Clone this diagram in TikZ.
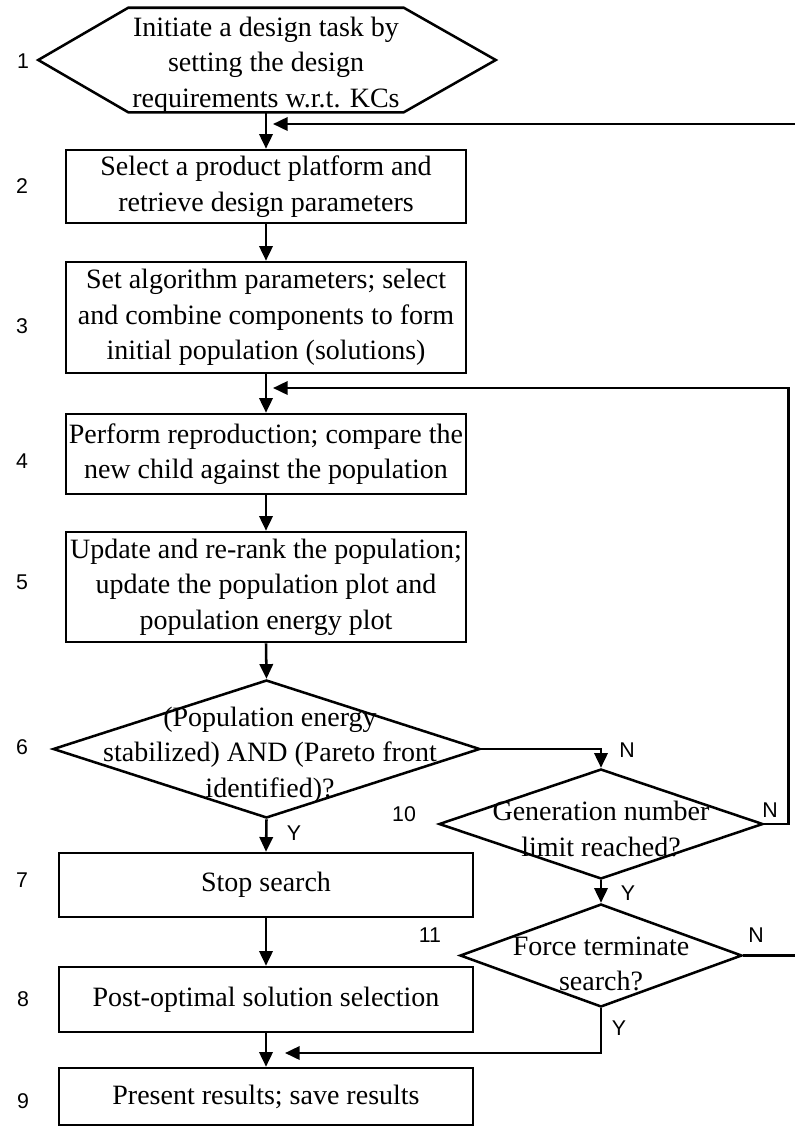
\documentclass[tikz,border=0pt]{standalone}
\usepackage{fontspec}
\setmainfont{Liberation Serif}
\newfontfamily\labelfont{Liberation Sans}
\usetikzlibrary{arrows.meta,shapes.geometric,calc}
\begin{document}
\begin{tikzpicture}[x=0.75pt,y=-0.75pt,
  line/.style={line width=1.9pt},
  arr/.style={line, -{Triangle[length=11pt,width=10pt]}},
  bodyfont/.style={font=\fontsize{21}{26.5}\selectfont},
  stepbox/.style={draw, line width=1.9pt, rectangle, minimum width=300pt,
    inner sep=0pt, align=center, bodyfont},
  widebox/.style={stepbox, minimum width=310.5pt},
  decision/.style={draw, line width=1.9pt, diamond, inner sep=0pt},
  txt/.style={align=center, inner sep=0pt, bodyfont},
  num/.style={font=\labelfont\fontsize{16}{18}\selectfont, inner sep=0pt}
]
\useasboundingbox (0,0) rectangle (795,1128);

% start: hexagon drawn around an invisible core rectangle
\node[minimum width=206.25pt, minimum height=78pt, inner sep=0pt] (n1) at (266,60) {};
\draw[line, line join=miter] (n1.north west) -- (n1.north east) -- ($(n1.east)+(92,0)$)
  -- (n1.south east) -- (n1.south west) -- ($(n1.west)+(-90,0)$) -- cycle;
\node[txt] (t1) at (266,65) {Initiate a design task by\\setting the design\\requirements w.r.t. KCs};

% main column
\node[stepbox, minimum height=54.75pt] (n2) at (266,186.5)
  {Select a product platform and\\retrieve design parameters};
\node[stepbox, minimum height=83.25pt] (n3) at (266,317.5)
  {Set algorithm parameters; select\\and combine components to form\\initial population (solutions)};
\node[stepbox, minimum height=60pt] (n4) at (266,454)
  {Perform reproduction; compare the\\new child against the population};
\node[stepbox, minimum height=82.5pt] (n5) at (266,587)
  {Update and re-rank the population;\\update the population plot and\\population energy plot};

\node[decision, minimum width=320.25pt, minimum height=103.5pt] (d6) at (266.5,749) {};
\node[txt] (t6) at (270,755) {(Population energy\\stabilized) AND (Pareto front\\identified)?};

\node[widebox, minimum height=48pt] (n7) at (266,885) {Stop search};
\node[widebox, minimum height=48.75pt] (n8) at (266,999.5) {Post-optimal solution selection};
\node[widebox, minimum height=42.75pt] (n9) at (266,1096.5) {Present results; save results};

% side column
\node[decision, minimum width=243pt, minimum height=82.5pt] (d10) at (601,824) {};
\node[txt] (t10) at (601,829) {Generation number\\limit reached?};
\node[decision, minimum width=211.5pt, minimum height=77.25pt] (d11) at (601,955.5) {};
\node[txt] (t11) at (601,964) {Force terminate\\search?};

% step numbers
\node[num] (l1) at (23,61) {1};
\node[num] (l2) at (22,186) {2};
\node[num] (l3) at (22,326) {3};
\node[num] (l4) at (22,461) {4};
\node[num] (l5) at (22,582) {5};
\node[num] (l6) at (22,747) {6};
\node[num] (l7) at (22,880) {7};
\node[num] (l8) at (23,999) {8};
\node[num] (l9) at (23,1101) {9};
\node[num] (l10) at (404,814) {10};
\node[num] (l11) at (430,935) {11};

% entry points of the loop-back arrows
\coordinate (fb1) at (273,124);
\coordinate (fb2) at (273,388);
\coordinate (fb3) at (285,1053);

% flow
\draw[arr] (n1.south) -- (n2.north);
\draw[arr] (n2) -- (n3);
\draw[arr] (n3) -- (n4);
\draw[arr] (n4) -- (n5);
\draw[arr] (n5.south) -- (d6.north);
\draw[arr] (d6.south) -- (n7.north);
\draw[arr] (n7) -- (n8);
\draw[arr] (n8) -- (n9);
\draw[arr] (d6.east) -| (d10.north);
\draw[arr] (d10.south) -- (d11.north);
\draw[arr] (d10.east) -- ++(24,0) |- (fb2);
\draw[arr] (d11.east) -- ++(60,0) |- (fb1);
\draw[arr] (d11.south) |- (fb3);

% branch labels
\node[num] (yn6) at (627,750) {N};
\node[num] (yy6) at (294,833) {Y};
\node[num] (yn10) at (770,810) {N};
\node[num] (yy10) at (628,893) {Y};
\node[num] (yn11) at (756,935) {N};
\node[num] (yy11) at (619,1028) {Y};
\end{tikzpicture}
\end{document}
